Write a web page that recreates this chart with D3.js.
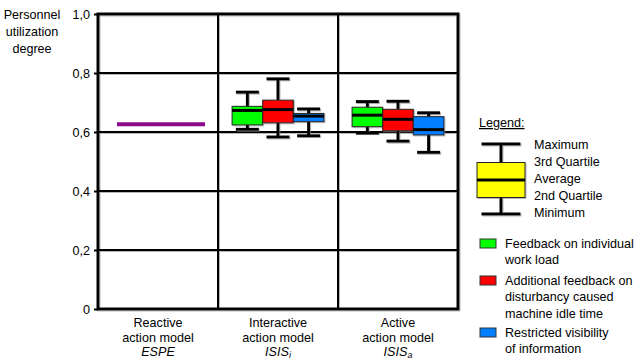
<!DOCTYPE html>
<html>
<head>
<meta charset="utf-8">
<script src="https://cdn.jsdelivr.net/npm/d3@7/dist/d3.min.js"></script>
<style>
  html, body { margin: 0; padding: 0; background: #fff; }
  svg { display: block; font-family: "Liberation Sans", Arial, sans-serif; }
</style>
</head>
<body>
<svg id="chart" width="642" height="360"></svg>
<script>
// Action models on the x axis (three lines each; last line italic, with optional subscript)
const groupLine1 = ["Reactive", "Interactive", "Active"];
const groupLine2 = ["action model", "action model", "action model"];
const groupCode = ["ESPE", "ISIS", "ISIS"];
const groupSub = ["", "i", "a"];

// Variants compared within the interactive and active models
const seriesNames = [
  "Feedback on individual work load",
  "Additional feedback on disturbancy caused machine idle time",
  "Restricted visibility of information"
];
const seriesColors = ["#00ff00", "#ff0000", "#0080ff"];

// Box statistics per series: [interactive, active]
const maxVals  = [[0.735, 0.703], [0.780, 0.704], [0.678, 0.665]];
const q3Vals   = [[0.687, 0.684], [0.708, 0.677], [0.663, 0.652]];
const meanVals = [[0.673, 0.657], [0.676, 0.643], [0.654, 0.608]];
const q1Vals   = [[0.624, 0.618], [0.631, 0.604], [0.635, 0.590]];
const minVals  = [[0.609, 0.596], [0.583, 0.569], [0.587, 0.531]];

// Reactive model: single utilization value
const reactiveValue = 0.626;

const yTicks = [0, 0.2, 0.4, 0.6, 0.8, 1.0];
const yTitle = ["Personnel", "utilization", "degree"];
const legendStats = ["Maximum", "3rd Quartile", "Average", "2nd Quartile", "Minimum"];
const legendSample = { max: 0.9, q3: 0.8, mean: 0.7, q1: 0.6, min: 0.5 };

const FS = 12.6;
const svg = d3.select("#chart");
const plot = { left: 98, right: 458, top: 14, bottom: 309 };

// soft grey halo under the black line work
const defs = svg.append("defs");
defs.append("filter").attr("id", "halo").attr("x", "-5%").attr("y", "-5%").attr("width", "110%").attr("height", "110%")
  .append("feDropShadow").attr("dx", 1).attr("dy", 1).attr("stdDeviation", 0.5)
  .attr("flood-color", "#888").attr("flood-opacity", 0.6);

const y = d3.scaleLinear().domain([0, 1]).range([plot.bottom, plot.top]);
const x = d3.scaleBand().domain(d3.range(groupLine1.length))
  .range([plot.left, plot.right]).padding(0);
const xs = d3.scaleBand().domain(d3.range(seriesNames.length))
  .range([0, x.bandwidth()]).paddingInner(0).paddingOuter(0.46);

const fmt = v => v === 0 ? "0" : d3.format(".1f")(v).replace(".", ",");

const frame = svg.append("g").attr("filter", "url(#halo)");

// horizontal grid lines
frame.append("g").selectAll("line").data(yTicks.filter(v => v > 0 && v < 1)).join("line")
  .attr("x1", plot.left).attr("x2", plot.right)
  .attr("y1", d => y(d)).attr("y2", d => y(d))
  .attr("stroke", "#000").attr("stroke-width", 2);

// vertical dividers between models
frame.append("g").selectAll("line").data(d3.range(1, groupLine1.length)).join("line")
  .attr("x1", d => x(d)).attr("x2", d => x(d))
  .attr("y1", plot.top).attr("y2", plot.bottom)
  .attr("stroke", "#000").attr("stroke-width", 2);

// plot frame
frame.append("rect")
  .attr("x", plot.left).attr("y", plot.top)
  .attr("width", plot.right - plot.left).attr("height", plot.bottom - plot.top)
  .attr("fill", "none").attr("stroke", "#000").attr("stroke-width", 3);

// y axis with comma decimals
const yAxis = d3.axisLeft(y).tickValues(yTicks).tickFormat(fmt).tickSize(4).tickPadding(4);
const yg = svg.append("g").attr("transform", `translate(${plot.left},0)`).call(yAxis);
yg.select(".domain").remove();
yg.selectAll(".tick line").attr("stroke", "#000").attr("stroke-width", 2);
yg.selectAll(".tick text").attr("font-size", FS).attr("fill", "#000")
  .attr("font-family", "Liberation Sans, Arial, sans-serif");

// y title
svg.append("text").attr("font-size", FS).attr("text-anchor", "middle").attr("fill", "#000")
  .selectAll("tspan").data(yTitle).join("tspan")
  .attr("x", 32).attr("y", (d, i) => 18.5 + i * 17).text(d => d);

// x labels
const xl = svg.append("g").attr("font-size", FS).attr("fill", "#000").attr("text-anchor", "middle");
groupLine1.forEach((g, i) => {
  const cx = x(i) + x.bandwidth() / 2;
  xl.append("text").attr("x", cx).attr("y", 327).text(g);
  xl.append("text").attr("x", cx).attr("y", 342).text(groupLine2[i]);
  const t = xl.append("text").attr("x", cx).attr("y", 356).attr("font-style", "italic");
  t.append("tspan").text(groupCode[i]);
  if (groupSub[i]) t.append("tspan").attr("font-size", 9).attr("dy", 2).text(groupSub[i]);
});

// reactive model value
svg.append("line")
  .attr("x1", x(0) + 19).attr("x2", x(0) + x.bandwidth() - 13)
  .attr("y1", y(reactiveValue)).attr("y2", y(reactiveValue))
  .attr("stroke", "#8b0a8b").attr("stroke-width", 4);

// draws one box-whisker glyph
function drawBox(g, x0, w, s, color, capW) {
  const cx = x0 + w / 2;
  const gg = g.append("g").attr("filter", "url(#halo)");
  gg.append("line").attr("x1", cx).attr("x2", cx).attr("y1", s.max).attr("y2", s.q3)
    .attr("stroke", "#000").attr("stroke-width", 3);
  gg.append("line").attr("x1", cx).attr("x2", cx).attr("y1", s.q1).attr("y2", s.min)
    .attr("stroke", "#000").attr("stroke-width", 3);
  gg.append("line").attr("x1", cx - capW / 2).attr("x2", cx + capW / 2).attr("y1", s.max).attr("y2", s.max)
    .attr("stroke", "#000").attr("stroke-width", 3);
  gg.append("line").attr("x1", cx - capW / 2).attr("x2", cx + capW / 2).attr("y1", s.min).attr("y2", s.min)
    .attr("stroke", "#000").attr("stroke-width", 3);
  gg.append("rect").attr("x", x0).attr("y", s.q3).attr("width", w).attr("height", s.q1 - s.q3)
    .attr("fill", color).attr("stroke", "#222").attr("stroke-width", 1);
  gg.append("line").attr("x1", x0).attr("x2", x0 + w).attr("y1", s.mean).attr("y2", s.mean)
    .attr("stroke", "#000").attr("stroke-width", 3);
}

const boxes = svg.append("g");
[1, 2].forEach((gi, k) => {
  seriesNames.forEach((_, si) => {
    const x0 = x(gi) + xs(si);
    drawBox(boxes, x0, xs.bandwidth(), {
      max: y(maxVals[si][k]), q3: y(q3Vals[si][k]), mean: y(meanVals[si][k]),
      q1: y(q1Vals[si][k]), min: y(minVals[si][k])
    }, seriesColors[si], 23);
  });
});

// legend: box glyph explanation
const lg = svg.append("g");
lg.append("text").attr("x", 479).attr("y", 127).attr("font-size", FS)
  .attr("text-decoration", "underline").text("Legend:");
const ly = d3.scaleLinear().domain([legendSample.min, legendSample.max]).range([214, 144]);
drawBox(lg, 477, 48, {
  max: ly(legendSample.max), q3: ly(legendSample.q3) + 1, mean: ly(legendSample.mean) + 1,
  q1: ly(legendSample.q1) + 1, min: ly(legendSample.min)
}, "#ffff00", 39);
lg.append("g").attr("font-size", FS).selectAll("text").data(legendStats).join("text")
  .attr("x", 534).attr("y", (d, i) => 148.5 + i * 17).text(d => d);

// legend: series colors
const seriesLines = [["Feedback on individual", "work load"],
  ["Additional feedback on", "disturbancy caused", "machine idle time"],
  ["Restricted visibility", "of information"]];
const itemTop = [244, 281, 333];
seriesLines.forEach((lines, i) => {
  lg.append("rect").attr("x", 480).attr("y", itemTop[i] - 5).attr("width", 16).attr("height", 9)
    .attr("fill", seriesColors[i]).attr("stroke", "#333").attr("stroke-width", 1);
  lg.append("text").attr("font-size", FS).selectAll("tspan").data(lines).join("tspan")
    .attr("x", 505).attr("y", (d, j) => itemTop[i] + 4 + j * 16.3).text(d => d);
});
</script>
</body>
</html>
